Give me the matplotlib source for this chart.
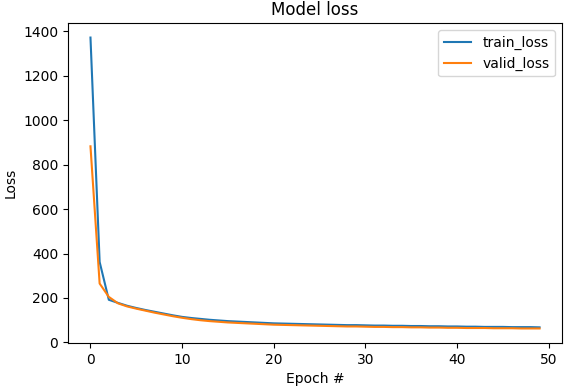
import matplotlib
matplotlib.use("Agg")
import matplotlib.pyplot as plt

epochs = list(range(50))
train_loss = [1371, 362, 192, 178, 165, 155, 146, 138, 130, 122,
              115, 110, 106, 102, 99, 96, 94, 92, 90, 88,
              86, 85, 84, 83, 82, 81, 80, 79, 78, 78,
              77, 76, 76, 75, 75, 74, 74, 73, 73, 72,
              72, 71, 71, 70, 70, 70, 69, 69, 69, 68]
valid_loss = [882, 265, 205, 176, 162, 152, 143, 134, 126, 118,
              111, 105, 100, 96, 93, 90, 88, 86, 84, 82,
              80, 79, 78, 77, 76, 75, 74, 73, 72, 72,
              71, 70, 70, 69, 69, 68, 68, 67, 67, 66,
              66, 65, 65, 65, 64, 64, 64, 63, 63, 63]

fig = plt.figure(figsize=(5.64, 3.9), dpi=100)
ax = fig.add_axes([0.1206, 0.1205, 0.8759, 0.8205])
ax.plot(epochs, train_loss, label='train_loss')
ax.plot(epochs, valid_loss, label='valid_loss')
ax.set_title('Model loss')
ax.set_xlabel('Epoch #')
ax.set_ylabel('Loss')
ax.legend(loc='upper right')
fig.savefig('out.png', dpi=100)
